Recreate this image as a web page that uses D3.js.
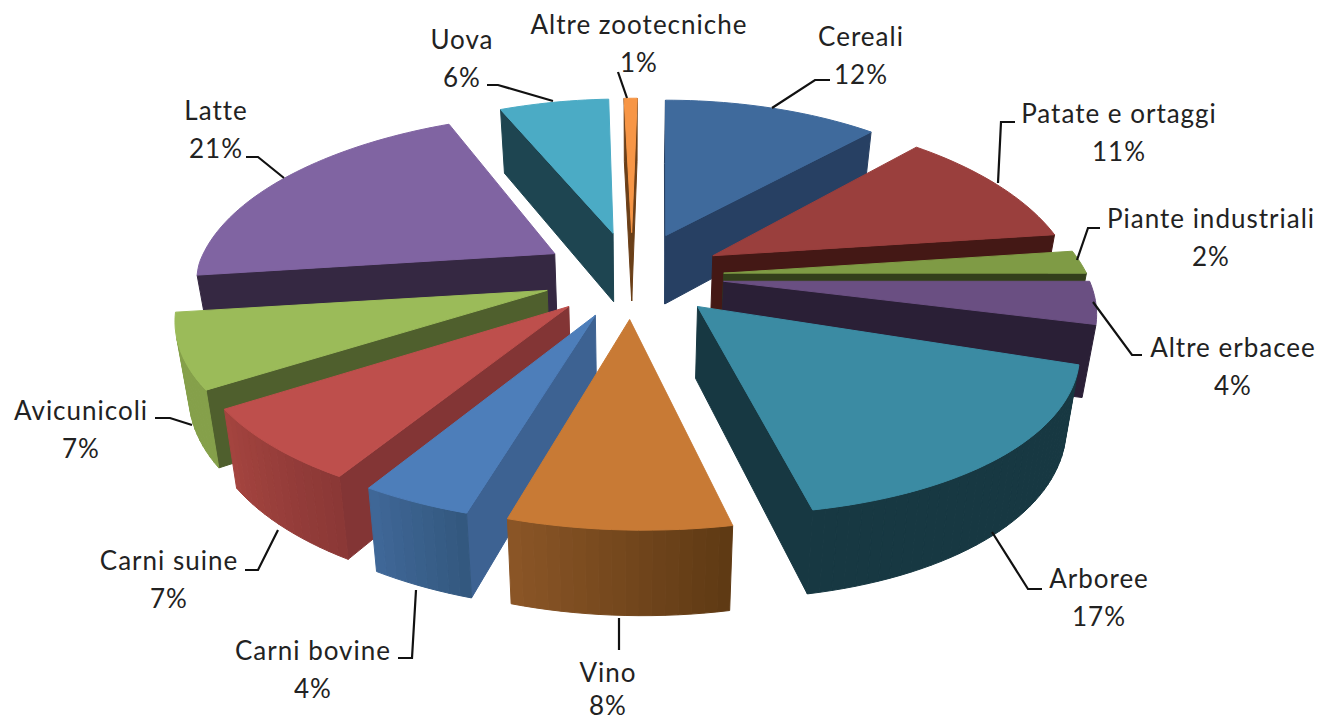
<!DOCTYPE html>
<html>
<head>
<meta charset="utf-8">
<script src="https://cdnjs.cloudflare.com/ajax/libs/d3/7.8.5/d3.min.js"></script>
<style>
    body { margin: 0; background: #fff; }
    text { font-family: Lato, "Open Sans", sans-serif; font-size: 26px; letter-spacing: 1px; fill: #222; text-anchor: middle; dominant-baseline: middle; }
</style>
</head>
<body>
<div id="chart"></div>
<script>
//Chart values, the labels show them rounded
const categories = ["Cereali", "Patate e ortaggi", "Piante industriali", "Altre erbacee", "Arboree", "Vino",
    "Carni bovine", "Carni suine", "Avicunicoli", "Latte", "Uova", "Altre zootecniche"];
const values = [12, 11, 2, 4, 17, 8, 4, 7, 7, 21, 6.25, 0.75];

//Slice colours: top face, flat cut faces, outer wall from left to right
const topColors = ["#3f6a9c", "#9a3f3d", "#7f9b45", "#6a4f82", "#3b8ba3", "#c87a35", "#4d7eba", "#be4f4c", "#9bbb59", "#8064a2", "#4babc5", "#f79646"];
const cutColors = ["#274063", "#441815", "#333f1b", "#2a1f36", "#173842", "#6b3f18", "#3d6292", "#833535", "#4f5f2d", "#352842", "#1e4551", "#6b3f18"];
const wallLight = ["#2f5079", "#6e2c2a", "#5f7534", "#3a2c4a", "#173842", "#8a5526", "#3f6797", "#a4443f", "#85a04a", "#352842", "#1e4551", "#a8642c"];
const wallDark = ["#2f5079", "#6e2c2a", "#5f7534", "#2a1f36", "#173842", "#5f3a14", "#33587f", "#8b3836", "#85a04a", "#352842", "#1e4551", "#a8642c"];

//Label placement: centre of the text block, then the leader line
const labelLayout = [
    { x: 861, y: 39, leader: [[772, 108], [815, 80], [830, 80]] },
    { x: 1119, y: 116, leader: [[998, 183], [1001, 122], [1015, 122]] },
    { x: 1211, y: 221, leader: [[1077, 260], [1088, 228], [1100, 228]] },
    { x: 1233, y: 350, leader: [[1093, 302], [1132, 355], [1142, 355]] },
    { x: 1099, y: 581, leader: [[992, 532], [1028, 589], [1042, 589]] },
    { x: 608, y: 675, gap: 33, leader: [[619, 618], [619, 650]] },
    { x: 313, y: 653, leader: [[416, 590], [412, 658], [398, 658]] },
    { x: 169, y: 563, leader: [[278, 530], [258, 570], [245, 570]] },
    { x: 81, y: 413, leader: [[192, 425], [170, 418], [155, 418]] },
    { x: 216, y: 113, leader: [[284, 178], [258, 157], [246, 157]] },
    { x: 462, y: 42, leader: [[553, 101], [498, 85], [487, 85]] },
    { x: 639, y: 27, leader: [[627, 98], [618, 72]] }
];

//SVG dimensions
const svgWidth = 1322;
const svgHeight = 724;

//Pie geometry, in units of the pie radius
const explode = 0.253;
const perspectiveBack = 0.22;
const perspectiveFront = 0.145;
const widenFront = 0.03;
const shear = 0.03;
const leanBack = 7;
const leanFront = 9;
const taper = 0.03;
const thickness = 70;

const svg = d3.select("#chart")
    .append("svg")
    .attr("width", svgWidth)
    .attr("height", svgHeight);

//Scales from the ground plane to the screen, each half has its own size
const xScale = d3.scaleLinear().domain([-1, 0, 1]).range([632 - 355, 632, 632 + 364]);
const yScale = d3.scaleLinear().domain([-1, 0, 1]).range([276 + 166, 276, 276 - 181]);
//The right side of the picture only starts to sag in front of the middle
const sagRight = d3.scaleLinear().domain([-0.43, -0.28]).range([1, 0]).clamp(true);

//Project a ground point (u to the right, v to the back), z is the drop below the top face
function project(u, v, z) {
    const s = 1 / (1 + (v > 0 ? perspectiveBack : perspectiveFront) * v);
    const wide = 1 + widenFront * Math.max(-v, 0);
    const x = xScale(u * s * wide) + (v > 0 ? leanBack : leanFront) * v * s;
    const dx = x - xScale(0);
    const sag = dx > 0 ? sagRight(v) : 1 - 0.8 * Math.max(v, 0);
    const drop = z * Math.max(s, 1 - (1 - s) * 0.45);
    return [x - dx * taper * z / thickness, yScale(v * s) + shear * sag * dx + drop];
}

const pie = d3.pie().sort(null).value(d => d);
const line = d3.line();

const slices = pie(values).map((d, i) => {
    const mid = (d.startAngle + d.endAngle) / 2;
    const ox = explode * Math.sin(mid);
    const oy = explode * Math.cos(mid);
    const count = Math.max(3, Math.ceil((d.endAngle - d.startAngle) / 0.03));
    const angles = d3.range(count + 1).map(k => d.startAngle + (d.endAngle - d.startAngle) * k / count);
    return { i, mid, ox, oy, angles };
});

function rim(s, a, z) {
    return project(s.ox + Math.sin(a), s.oy + Math.cos(a), z);
}

function polygon(g, pts, color) {
    g.append("path")
        .attr("d", line(pts) + "Z")
        .attr("fill", color)
        .attr("stroke", color)
        .attr("stroke-width", 1);
}

//Back slices first so that front slices cover them
const order = slices.slice().sort((a, b) => b.oy - a.oy);

const pieGroup = svg.append("g");

order.forEach(s => {
    const g = pieGroup.append("g").attr("class", "slice");
    const tipTop = project(s.ox, s.oy, 0);
    const tipBottom = project(s.ox, s.oy, thickness);
    const first = s.angles[0];
    const last = s.angles[s.angles.length - 1];

    //Flat cut faces, drawn only when they look toward the viewer
    const startFace = [tipTop, rim(s, first, 0), rim(s, first, thickness), tipBottom];
    const endFace = [rim(s, last, 0), tipTop, tipBottom, rim(s, last, thickness)];
    if (d3.polygonArea(startFace) > 0) polygon(g, startFace, cutColors[s.i]);
    if (d3.polygonArea(endFace) > 0) polygon(g, endFace, cutColors[s.i]);

    //Outer wall, in short strips so it can carry the shading
    const shade = d3.interpolateRgb(wallDark[s.i], wallLight[s.i]);
    s.angles.slice(1).forEach((a, k) => {
        const b = s.angles[k];
        const quad = [rim(s, b, 0), rim(s, a, 0), rim(s, a, thickness), rim(s, b, thickness)];
        if (d3.polygonArea(quad) > 0) {
            polygon(g, quad, shade(k / (s.angles.length - 2)));
        }
    });

    //Top face
    polygon(g, [tipTop].concat(s.angles.map(a => rim(s, a, 0))), topColors[s.i]);
});

//Labels and leader lines
const labels = svg.append("g");

labelLayout.forEach((d, i) => {
    labels.append("path")
        .attr("d", line(d.leader))
        .attr("fill", "none")
        .attr("stroke", "#111")
        .attr("stroke-width", 2.2);
    labels.append("text")
        .attr("x", d.x)
        .attr("y", d.y)
        .text(categories[i]);
    labels.append("text")
        .attr("x", d.x)
        .attr("y", d.y + (d.gap || 38))
        .text(Math.round(values[i]) + "%");
});
</script>
</body>
</html>
